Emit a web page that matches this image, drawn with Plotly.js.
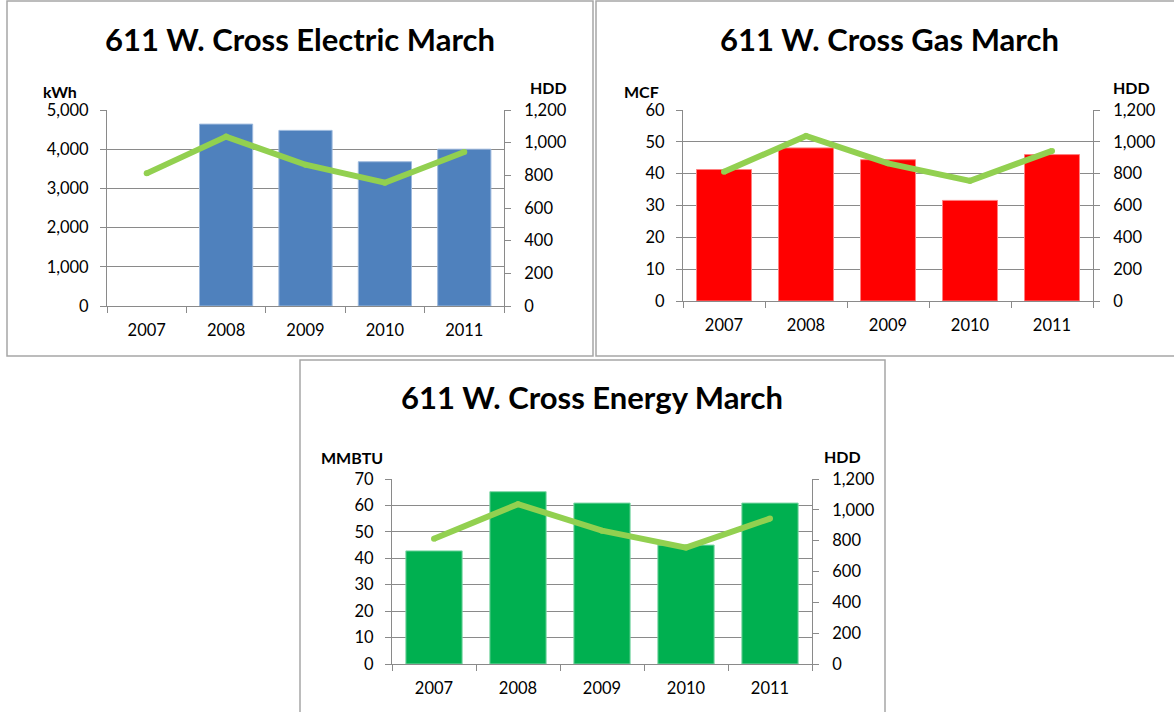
<!DOCTYPE html>
<html>
<head>
<meta charset="utf-8">
<script src="https://cdn.plot.ly/plotly-3.0.1.min.js"></script>
<style>html,body{margin:0;padding:0;background:#fff;}#chart{width:1174px;height:712px;}</style>
</head>
<body>
<div id="chart"></div>
<script>
// ---- data ----
const years = ['2007', '2008', '2009', '2010', '2011'];
const electricKwh = [null, 4640, 4480, 3680, 4000];
const gasMcf = [41.3, 48.1, 44.4, 31.6, 46.0];
const energyMmbtu = [42.8, 65.2, 60.9, 45.0, 60.9];
const hdd = [812, 1037, 865, 755, 943];

const titles = ['611 W. Cross Electric March', '611 W. Cross Gas March', '611 W. Cross Energy March'];
const unitLabels = ['kWh', 'MCF', 'MMBTU'];
const hddLabel = 'HDD';

// ---- styles ----
const W = 1174, H = 712;
const px = x => x / W;
const py = y => 1 - y / H;
const FONT = 'Lato, "Open Sans", sans-serif';
const GRID = '#8a8a8a';
const LINE_GREEN = '#92D050';
const TICK_SIZE = 16.5;

const panels = [
  {vals: electricKwh, color: '#4F81BD', edge: '#9DB9DD', x0: 107, x1: 504, y0: 110, y1: 306,
   range: [0, 5000], dtick: 1000, box: [7, 1, 593, 356], titleX: 300, titleY: 39,
   unitX: 60, unitY: 92, hddX: 548, hddY: 88},
  {vals: gasMcf, color: '#FF0000', edge: '#FF7F7F', x0: 683, x1: 1093, y0: 110, y1: 301,
   range: [0, 60], dtick: 10, box: [596, 1, 1176, 356], titleX: 889, titleY: 39,
   unitX: 641, unitY: 92, hddX: 1131, hddY: 88},
  {vals: energyMmbtu, color: '#00B050', edge: '#7FD7A7', x0: 392, x1: 812, y0: 479, y1: 664,
   range: [0, 70], dtick: 10, box: [300, 360, 885, 715], titleX: 592, titleY: 397,
   unitX: 352, unitY: 457, hddX: 842, hddY: 456}
];

const data = [];
const layout = {
  width: W, height: H,
  margin: {l: 0, r: 0, t: 0, b: 0},
  paper_bgcolor: '#fff', plot_bgcolor: 'rgba(0,0,0,0)',
  showlegend: false,
  font: {family: FONT, size: TICK_SIZE, color: '#000'},
  bargap: 0.33,
  shapes: [], annotations: []
};

panels.forEach((p, i) => {
  const xa = i === 0 ? 'x' : 'x' + (i + 1);
  const yl = 'y' + (2 * i === 0 ? '' : 2 * i + 1);
  const yr = 'y' + (2 * i + 2);
  const xKey = i === 0 ? 'xaxis' : 'xaxis' + (i + 1);
  const ylKey = 'yaxis' + (2 * i === 0 ? '' : 2 * i + 1);
  const yrKey = 'yaxis' + (2 * i + 2);

  data.push({type: 'bar', x: years, y: p.vals, xaxis: xa, yaxis: yl,
    marker: {color: p.color, line: {color: p.edge, width: 1}}, hoverinfo: 'x+y'});
  data.push({type: 'scatter', mode: 'lines+markers', x: years, y: hdd, xaxis: xa, yaxis: yr,
    line: {color: LINE_GREEN, width: 6}, marker: {color: LINE_GREEN, size: 6, line: {width: 0}},
    hoverinfo: 'x+y'});

  layout[xKey] = {
    domain: [px(p.x0), px(p.x1)], anchor: yl, type: 'category', range: [-0.5, 4.5],
    showline: true, linecolor: GRID, linewidth: 1, ticks: 'outside', tickson: 'boundaries',
    ticklen: 6, tickcolor: GRID, showgrid: false, zeroline: false, fixedrange: true,
    tickfont: {family: FONT, size: TICK_SIZE, color: '#000'}, ticklabelstandoff: 9
  };
  layout[ylKey] = {
    domain: [py(p.y1), py(p.y0)], anchor: xa, range: p.range, dtick: p.dtick, tick0: 0,
    tickformat: ',d', showline: true, linecolor: GRID, ticks: 'outside', ticklen: 6,
    tickcolor: GRID, showgrid: true, gridcolor: GRID, gridwidth: 1, zeroline: false,
    fixedrange: true, tickfont: {family: FONT, size: TICK_SIZE, color: '#000'}, ticklabelstandoff: 8
  };
  layout[yrKey] = {
    overlaying: yl, side: 'right', anchor: xa, range: [0, 1200], dtick: 200, tick0: 0,
    tickformat: ',d', showline: true, linecolor: GRID, ticks: 'outside', ticklen: 6,
    tickcolor: GRID, showgrid: false, zeroline: false, fixedrange: true,
    tickfont: {family: FONT, size: TICK_SIZE, color: '#000'}, ticklabelstandoff: 10
  };

  layout.shapes.push({type: 'rect', xref: 'paper', yref: 'paper',
    x0: px(p.box[0]), x1: px(p.box[2]), y0: py(p.box[3]), y1: py(p.box[1]),
    line: {color: '#a6a6a6', width: 1.5}, fillcolor: 'rgba(0,0,0,0)', layer: 'below'});

  layout.annotations.push({text: '<b>' + titles[i] + '</b>', xref: 'paper', yref: 'paper',
    x: px(p.titleX), y: py(p.titleY), xanchor: 'center', yanchor: 'middle', showarrow: false,
    font: {family: FONT, size: 31, color: '#000'}});
  layout.annotations.push({text: '<b>' + unitLabels[i] + '</b>', xref: 'paper', yref: 'paper',
    x: px(p.unitX), y: py(p.unitY), xanchor: 'center', yanchor: 'middle', showarrow: false,
    font: {family: FONT, size: 16, color: '#000'}});
  layout.annotations.push({text: '<b>' + hddLabel + '</b>', xref: 'paper', yref: 'paper',
    x: px(p.hddX), y: py(p.hddY), xanchor: 'center', yanchor: 'middle', showarrow: false,
    font: {family: FONT, size: 16, color: '#000'}});
});

Plotly.newPlot('chart', data, layout, {displayModeBar: false, staticPlot: true});
</script>
</body>
</html>
